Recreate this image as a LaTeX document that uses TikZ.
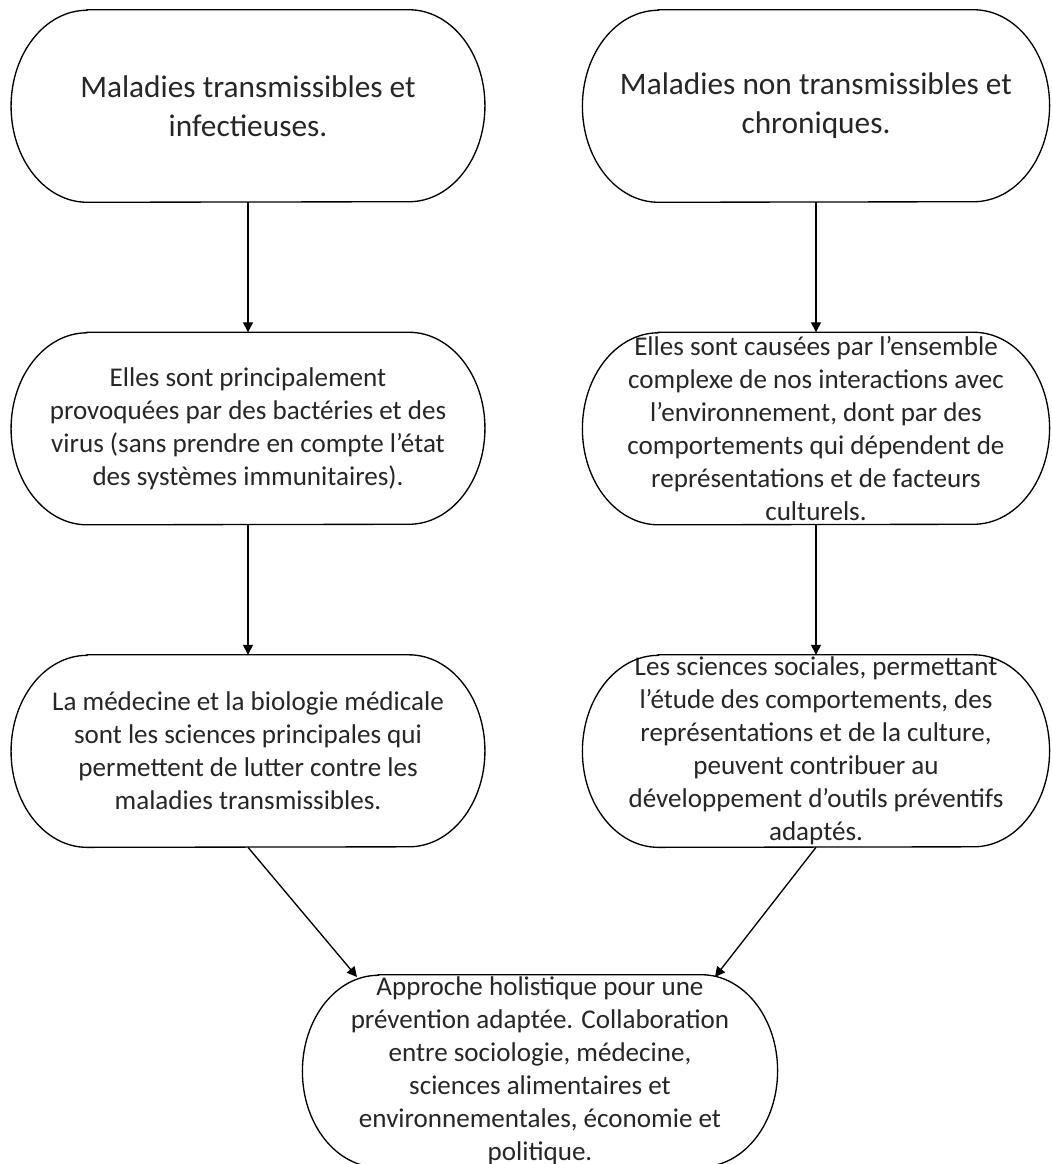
\documentclass[tikz,border=0pt]{standalone}
\usepackage{fontspec}
\setmainfont{Carlito}
\usetikzlibrary{positioning, arrows.meta}

\begin{document}
\begin{tikzpicture}[x=0.75pt, y=-0.75pt,
    pill/.style={rectangle, inner sep=0pt, minimum height=144pt,
        align=center, text=black!85,
        font=\fontsize{20.3}{24.75}\selectfont},
    pillL/.style={pill, minimum width=355pt},
    pillR/.style={pill, minimum width=350pt},
    titletext/.style={font=\fontsize{23.5}{29.25}\selectfont},
    outline/.style={line width=1pt},
    link/.style={-{Triangle[length=7.5pt,width=7.5pt]}, line width=1pt},
    node distance=97.5pt]
    % page frame (pixel units)
    \useasboundingbox (0,0) rectangle (1051,1164);

    % Top row: the two kinds of diseases
    \node[pillL, titletext] (trans) at (248,106) {Maladies transmissibles et\\infectieuses.};
    \node[pillR, titletext] (nontrans) at (816,106) {Maladies non transmissibles et\\chroniques.};

    % Causes
    \node[pillL, below=of trans] (causeT) {Elles sont principalement\\provoquées par des bactéries et des\\virus (sans prendre en compte l’état\\des systèmes immunitaires).};
    \node[pillR, below=of nontrans] (causeN) {Elles sont causées par l’ensemble\\complexe de nos interactions avec\\l’environnement, dont par des\\comportements qui dépendent de\\représentations et de facteurs\\culturels.};

    % Sciences involved
    \node[pillL, below=of causeT] (sciT) {La médecine et la biologie médicale\\sont les sciences principales qui\\permettent de lutter contre les\\maladies transmissibles.};
    \node[pillR, below=of causeN] (sciN) {Les sciences sociales, permettant\\l’étude des comportements, des\\représentations et de la culture,\\peuvent contribuer au\\développement d’outils préventifs\\adaptés.};

    % Common outcome (runs off the bottom edge)
    \node[pill, minimum width=356pt] (holist) at (540,1071) {Approche holistique pour une\\prévention adaptée. Collaboration\\entre sociologie, médecine,\\sciences alimentaires et\\environnementales, économie et\\politique.};
    \coordinate (inL) at (357,977);
    \coordinate (inR) at (715,977);

    % Terminator outlines with elliptic ends
    \foreach \n in {trans,nontrans,causeT,causeN,sciT,sciN,holist}
        \draw[outline] ([xshift=57pt]\n.north west) -- ([xshift=-57pt]\n.north east)
            arc[start angle=90, end angle=-90, x radius=57pt, y radius=72pt]
            -- ([xshift=57pt]\n.south west)
            arc[start angle=270, end angle=90, x radius=57pt, y radius=72pt] -- cycle;

    % Arrows
    \draw[link] (trans) -- (causeT);
    \draw[link] (causeT) -- (sciT);
    \draw[link] (nontrans) -- (causeN);
    \draw[link] (causeN) -- (sciN);
    \draw[link] (sciT.south) -- (inL);
    \draw[link] (sciN.south) -- (inR);
\end{tikzpicture}
\end{document}
